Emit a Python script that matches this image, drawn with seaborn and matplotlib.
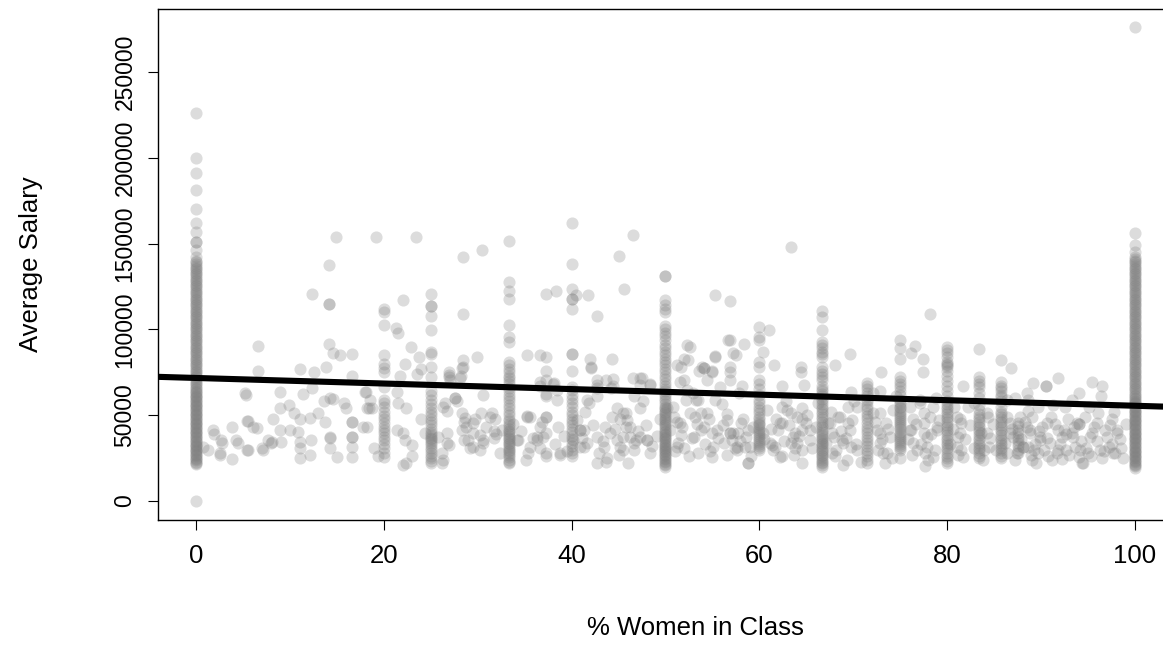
import matplotlib
matplotlib.use("Agg")
import matplotlib.pyplot as plt
import pandas as pd
import seaborn as sns

# ---------------- data (salary in $1000) ----------------
# vertical strips at common class fractions
sal_at_0 = [0, 21.5, 22.3, 23, 23.8, 24.5, 25.3, 26, 26.8, 27.5, 28.3, 29, 29.8, 30.5, 31.3, 32, 32.8,
            33.5, 34.3, 35, 35.8, 36.5, 37.3, 38, 38.8, 39.5, 40.3, 41, 41.8, 42.5, 43.3, 44, 44.8, 45.5,
            46.3, 47, 47.8, 48.5, 49.3, 50, 50.8, 51.5, 52.3, 53, 53.8, 54.5, 55.3, 56, 56.8, 57.5, 58.3,
            59, 59.8, 60.5, 61.3, 62, 62.8, 63.5, 64.3, 65, 66, 67, 68, 69, 70, 71, 72, 73, 74, 75, 76, 77,
            78, 79, 80, 81, 82, 83, 84, 85, 86, 87, 88, 89, 90, 91, 92, 93, 94, 95, 96, 97, 98, 99, 100,
            101, 102, 103, 104, 105, 106, 107, 108, 109, 110, 111, 112, 113, 114, 115, 116, 117, 118, 119,
            120, 121, 122, 123, 124, 125, 126, 127, 128, 129, 130, 131, 132, 133, 134, 135, 136, 137, 138,
            139, 140, 142, 146, 151, 151, 157, 162, 170, 181, 191, 200, 226]
sal_at_100 = [19.5, 20.3, 21, 21.8, 22.5, 23.3, 24, 24.8, 25.5, 26.3, 27, 27.8, 28.5, 29.3, 30, 30.8,
              31.5, 32.3, 33, 33.8, 34.5, 35.3, 36, 36.8, 37.5, 38.3, 39, 39.8, 40.5, 41.3, 42, 42.8,
              43.5, 44.3, 45, 45.8, 46.5, 47.3, 48, 48.8, 49.5, 50.3, 51, 51.8, 52.5, 53.3, 54, 54.8,
              55.5, 56.3, 57, 57.8, 58.5, 59.3, 60, 61, 62, 63, 64, 65, 66, 67, 68, 69, 70, 71, 72, 73,
              74, 75, 76, 77, 78, 79, 80, 81, 82, 83, 84, 85, 86, 87, 88, 89, 90, 91, 92, 93, 94, 95, 96,
              97, 98, 99, 100, 101, 102, 103, 104, 105, 106, 107, 108, 109, 110, 111, 112, 113, 114, 115,
              116, 117, 118, 119, 120, 121, 122, 123, 124, 125, 126, 127, 128, 129, 130, 131, 132, 133,
              134, 135, 136, 137, 138, 139, 140, 141, 142, 145, 149, 156, 276]
sal_at_50 = [20, 21, 21.8, 22.6, 23.5, 24.3, 25, 26, 26.8, 27.5, 28.4, 29.2, 30, 31, 31.8, 32.6, 33.5,
             34.3, 35, 36, 36.8, 37.5, 38.4, 39.2, 40, 41, 42, 43, 44, 45, 46, 47, 48, 49, 50, 51, 52, 53,
             54, 55, 56.5, 58, 59.5, 61, 62.5, 64, 65.5, 67, 69, 71, 73, 75, 77, 79, 81, 83, 85, 87, 89,
             91, 94, 96, 98, 100, 102, 110, 112, 114, 117, 131, 131]
sal_at_33 = [22, 23, 24, 25.5, 27, 28, 29, 30, 31, 32, 33, 34, 35, 36, 37, 38, 39, 40, 41, 42, 43.5, 45,
             46.5, 48, 50, 52, 54, 56, 58, 60, 62, 64, 66, 68, 70, 71.5, 73, 75, 77, 79, 81, 92.8, 95.7,
             102.6, 117.5, 122.5, 127.8, 151.5]
sal_at_67 = [20, 21, 22, 23, 24, 25, 26, 27, 28, 29, 30, 31, 32, 33, 34, 35, 36, 37, 38, 39, 40, 41.5,
             43, 44.5, 46, 47.5, 49, 50.5, 52, 53.5, 55, 56.5, 58, 59.5, 61, 62.5, 64, 65.5, 67, 70.5, 72,
             74, 76, 78, 84, 85.5, 87, 89, 91, 92.8, 99.6, 107, 111]
sal_at_25 = [22, 23.5, 25, 26.5, 28, 29.5, 31, 32.5, 34, 35, 36, 37, 38, 39, 40.5, 42, 44, 46, 48, 50,
             52, 54, 56.5, 59, 61.5, 64, 72.4, 78, 85.7, 87, 99.6, 108, 113.6, 113.6, 120.6]
sal_at_20 = [25.6, 28, 30.7, 33, 35.6, 37.5, 39.6, 41.3, 43, 45.5, 47.6, 49.6, 52, 54.5, 57, 59, 66.6,
             75, 77.5, 80, 85, 102.6, 110, 112]
sal_at_40 = [26, 28.2, 30, 32, 34, 36, 38, 40, 42, 44, 46, 48, 50, 52, 54.5, 57, 59.5, 62, 64.5, 66.6,
             76, 85.7, 85.7, 112, 117.5, 117.5, 123.5, 138, 162]
sal_at_60 = [29.7, 31, 32, 33, 34.2, 35.5, 36.7, 38, 39, 40, 41.3, 42.5, 44, 45, 46.2, 47.5, 49, 51,
             53, 55, 57, 59, 62, 65, 68, 70.5, 78, 80.9, 93.8, 95.7, 101.6]
sal_at_75 = [25, 29.7, 31, 32, 33.3, 34.5, 35.6, 37, 38, 39.3, 40.5, 41.7, 43, 44, 45.3, 46.5, 47.7,
             49, 50, 51.5, 52.7, 54, 55, 56.5, 57.7, 59, 62, 64, 66.6, 68, 70, 72.4, 82.6, 89, 94]
sal_at_80 = [22, 23.5, 25, 26.5, 28, 29.5, 31, 32.5, 34, 35.5, 37, 38.5, 40, 41.5, 43, 44.5, 46, 47.5,
             49, 50.5, 52, 53.5, 55, 56.5, 58, 61, 64, 67, 70, 73, 76, 78, 79, 80, 81, 84, 86, 88, 90]
sal_at_83 = [25, 26.5, 28, 29.5, 31, 32.5, 34, 35.5, 37, 38.5, 40, 41.5, 43, 44.5, 46, 47.5, 49, 50.5,
             53, 56, 60, 63, 66.6, 68, 70, 72.4, 88.6]
sal_at_86 = [25, 26.5, 28, 29.5, 31, 32.5, 34, 35.5, 37, 38.5, 40, 41.5, 43, 44.5, 46, 47.5, 49, 50.5,
             52, 55, 58, 60.8, 62, 64, 66, 67, 69.5, 82]
sal_at_71 = [22, 24, 26, 28.2, 30, 32, 34, 35.6, 37.5, 39.5, 41.5, 43.3, 45.5, 47.5, 49.5, 51.5, 53.5,
             55.5, 57.5, 59.1, 61, 63, 65, 66.8, 68.8]
sal_at_875 = [28.2, 30, 32, 34, 35.6, 37.5, 39.5, 41.5, 43.5, 45.5]

strip_pct = [0, 100, 50, 100 / 3, 200 / 3, 25, 20, 40, 60, 75, 80, 250 / 3, 600 / 7, 500 / 7, 87.5]
strip_sal = [sal_at_0, sal_at_100, sal_at_50, sal_at_33, sal_at_67, sal_at_25, sal_at_20, sal_at_40,
             sal_at_60, sal_at_75, sal_at_80, sal_at_83, sal_at_86, sal_at_71, sal_at_875]

# scattered points (% women, salary $1000)
high_points = [(6.6, 90.5), (6.6, 76), (11.1, 77), (12.6, 75), (13.8, 78), (12.4, 120.6), (14.2, 137.5),
               (14.2, 114.8), (14.2, 114.8), (14.9, 154), (14.2, 91.5), (14.6, 86.4), (15.3, 85),
               (16.6, 85.5), (16.6, 72.8), (19.2, 154), (23.4, 154), (28.4, 142), (30.5, 146),
               (22.1, 117), (28.4, 109), (21.3, 101), (21.5, 98), (22.9, 90), (23.7, 84), (22.3, 80),
               (24, 77), (23.5, 74), (21.7, 73), (29.9, 84), (28.4, 82), (28.4, 78), (26.9, 75),
               (26.9, 72), (28.2, 72.8), (27.1, 70.6), (46.5, 155), (45, 142.8), (45.6, 123.5),
               (37.3, 120.6), (38.3, 122.4), (40.5, 120), (41.8, 120), (42.7, 108), (36.6, 85),
               (37.3, 84), (37.3, 76), (42, 83), (44.3, 83), (42.1, 78), (44.4, 71), (44.4, 67),
               (47.5, 71.5), (48.3, 68), (52.3, 91), (52, 83), (51.2, 79), (53.6, 76), (51.5, 69.6),
               (52.3, 64.7), (55.3, 120), (56.9, 116.5), (63.4, 148), (56.7, 94), (58.4, 91.5),
               (61, 99.6), (60.4, 87), (57.5, 85), (55.3, 84), (69.7, 85.5), (68.1, 79.5), (61.6, 79),
               (64.4, 78), (64.4, 75), (56.9, 78), (56.9, 75), (53.9, 78), (54.9, 76), (73, 75.4),
               (76.6, 90.6), (76.1, 86), (77.4, 82.6), (77.4, 75), (78.2, 108.8), (86.8, 77.5),
               (91.8, 71.9), (89.1, 68.6), (90.5, 66.8), (90.5, 66.8), (95.4, 69.3), (96.5, 66.8),
               (96.4, 61), (52.6, 89.5), (52.4, 82), (51.7, 78), (55.3, 84.5), (54.1, 77.3),
               (55, 75.4), (56.9, 93.8), (57.2, 86), (35.3, 85), (42.1, 77.3), (54.1, 77.3)]
low_left = [(0.8, 31.7), (1.8, 41.3), (2.7, 35.6), (2.6, 28.2), (3.8, 43.3), (3.8, 24.3), (4.3, 35.6),
            (5.4, 29.7), (5.3, 61.8), (5.4, 46.8), (6.1, 43.3), (7.0, 30.7), (7.7, 35.6), (8.1, 34.1),
            (8.2, 47.6), (8.9, 63.7), (8.9, 54.1), (8.9, 41.3), (9.1, 34.6), (9.9, 56), (10, 41.3),
            (10.4, 51.5), (11.1, 47.6), (10.9, 40.4), (11.1, 34.6), (11.1, 30.7), (11.1, 24.9),
            (11.4, 62.3), (12.1, 48.2), (12.3, 35.6), (12.1, 26.8), (12.4, 65.6), (13, 51), (13.7, 46.2),
            (13.6, 58), (14.3, 59.9), (14.6, 59.3), (14.3, 37.5), (14.3, 36.5), (14.3, 30.7), (15, 25.9),
            (15.8, 57.3), (16, 54), (16.6, 46.2), (16.6, 46.2), (16.6, 37.5), (16.6, 37.5), (16.6, 31.7),
            (16.6, 25.9), (18.1, 63.7), (18.2, 54), (17.8, 43.3), (1.3, 29.7), (1.9, 39), (2.8, 34),
            (2.6, 27), (4.5, 34), (5.5, 29.7), (5.5, 46.6), (6.5, 42.7), (7.1, 29.7), (8, 34),
            (5.2, 63), (18, 63.7), (18.5, 59.1), (18.4, 54), (18.7, 54), (18.2, 43.3), (19.4, 26),
            (19, 30.7), (21.4, 63.7), (21.5, 57.3), (22.4, 54), (21.4, 41.3), (22.1, 39.6),
            (22.3, 35.6), (23, 32.8), (23, 26), (22.1, 21.2), (22.4, 22.2), (24, 47.6), (24.4, 39.6),
            (25.8, 37.5), (26.2, 28.2), (26.2, 22.2), (26.5, 57.3), (26.7, 52.4), (26.7, 39.6),
            (26.9, 32.8), (27.6, 60.3), (27.8, 58.2), (28.3, 51.5), (28.7, 48.6), (28.5, 45.8),
            (28.3, 41.3), (29.7, 47.6), (30.4, 51.5), (31.5, 51.5), (31.8, 47.6), (29.5, 39.6),
            (30.6, 35.6), (31.7, 36.5), (29, 35.6), (29.2, 30.7), (30.2, 29.7), (32.6, 41.3)]
low_mid = [(34.3, 35.6), (35.2, 49.6), (35.4, 28.2), (37.3, 70.5), (36.6, 66.8), (37.3, 61), (38.1, 68.6),
           (38.4, 59.1), (35.6, 49.2), (37.3, 49.2), (36.3, 35.6), (37, 37.5), (37.3, 26), (38.8, 27),
           (40.9, 41.3), (41.3, 41.3), (40.2, 35.6), (40.9, 31.7), (41.6, 59.1), (41.9, 57.3),
           (41.4, 52.1), (42.7, 70.5), (42.7, 67.6), (42.7, 65.6), (42.7, 61), (43.6, 43.3),
           (44.1, 39.6), (44.3, 49.2), (44.8, 54), (45.5, 51.5), (45.2, 47.6), (46.2, 43.3),
           (46.2, 37.5), (45.2, 31.7), (45.5, 29.7), (42.7, 21.9), (43.8, 24.8), (46, 22.2),
           (46.9, 35.6), (48, 35.6), (46.5, 71.6), (47.3, 67.6), (46.6, 61), (47.3, 54), (50.2, 54),
           (50.9, 49.2), (51.2, 46.2), (50.5, 41.3), (51.6, 38.5), (49.9, 30.7), (51, 29.1), (52, 30.7),
           (53.3, 59.1), (26.9, 73.4), (28.1, 71.4), (28.3, 77.3), (30.6, 61.8), (36.6, 69.3),
           (37.3, 62.5), (38, 68.4), (38.4, 64.5), (43.7, 70.5), (44.2, 65.6), (47.3, 71.4),
           (48.3, 67.6), (47.6, 58), (52, 70.5), (52.9, 62.7), (52.2, 58.9), (54.4, 70.5), (55.8, 66.6),
           (56.9, 70.5), (26.3, 55), (27.6, 59.8), (28.8, 43.3), (29.5, 45.2), (30.2, 38.4),
           (31.3, 49.2), (31.7, 40.6), (30.6, 33.6), (29.5, 31.7), (28.5, 35.6), (26.3, 23.9),
           (26.7, 33.6), (34.2, 35.6), (35.2, 49.2), (35.6, 31.7), (36.3, 37.5), (36.6, 43.3),
           (37.3, 49.2), (37.3, 39.6), (37.3, 27.8), (38.8, 27.8), (36.6, 30.7), (40.9, 41.3),
           (41.6, 33.6), (41.3, 31.7), (42.7, 37.5), (43.4, 31.7), (43.7, 22.9), (44.8, 35.6),
           (45.8, 51), (45.8, 43.3), (45.5, 37.5), (46.6, 33.6), (47.3, 37.5), (48, 35.6), (48.3, 27.8),
           (50.8, 54.9), (51.5, 45.2), (52.6, 51), (51.2, 31.7), (53, 37.5), (54.4, 51), (54.1, 43.3),
           (55.5, 41.3), (56.5, 47.1), (57.2, 39.4), (55.1, 31.7), (56.2, 33.6), (57.6, 31.7),
           (30.9, 43), (31.9, 39), (32.4, 28), (33.8, 45), (34.6, 41), (35.1, 24), (35.9, 37),
           (36.9, 46), (38.2, 33), (38.6, 43), (39.2, 38), (39.5, 29), (40.6, 47), (41.1, 37),
           (42.3, 44), (42.9, 28), (43.3, 35), (44.6, 42), (45.1, 27), (45.9, 47), (46.6, 30),
           (47.1, 41), (47.9, 44), (48.6, 32), (49.1, 38), (49.4, 48), (51.3, 34), (51.8, 43),
           (52.5, 26), (52.8, 37), (53.4, 45), (54.2, 33), (54.7, 29), (55.6, 37), (56.1, 44),
           (56.6, 27), (57.9, 35), (58.3, 48), (59.1, 26), (59.3, 43)]
low_right = [(53.5, 59.1), (53.8, 51.5), (53.1, 49.2), (54.6, 47.6), (53.8, 41.3), (54.9, 39.6),
             (53.5, 28.2), (54.9, 25.9), (55.3, 59.1), (56, 56.4), (56.5, 50.5), (56.9, 39.6),
             (57.1, 35.6), (57.4, 30.7), (57.7, 39.6), (58.5, 31.7), (58.8, 22.2), (57.8, 62.9),
             (58.1, 66.8), (58.8, 41.3), (60.8, 52.8), (61.3, 32.8), (61.7, 31.7), (62, 41.3),
             (62.4, 45.2), (62.4, 55), (62.4, 66.8), (63.4, 51.5), (63.8, 39.6), (63.4, 33.8),
             (63.8, 30.7), (64.5, 54), (64.7, 67.6), (64.5, 47.6), (64.5, 41.3), (64.5, 21.9),
             (62.4, 26), (65.4, 35.6), (67.3, 45.2), (67.7, 39.6), (67.7, 28.2), (68.4, 49.2),
             (68.8, 35.6), (68.9, 21), (69.4, 45.2), (69.8, 31.7), (69.8, 63.7), (69.4, 55), (72.1, 63.1),
             (72.8, 51.5), (72.8, 39.6), (73.6, 28.2), (73.4, 22.2), (76, 41.3), (76.4, 47.6), (76, 55),
             (77.1, 59.1), (77.5, 51.5), (77.5, 39.6), (77.8, 31.7), (77.6, 28.2), (77.6, 20.4),
             (78.5, 55), (78.9, 43.3), (80.7, 55), (81.4, 47.6), (81.4, 39.6), (81, 31.7), (81.7, 25.9),
             (81.7, 66.8), (84.2, 51.5), (84.2, 39.6), (84.5, 31.7), (86.4, 59.1), (86.4, 49.2),
             (86.7, 39.6), (86.4, 28.2), (88.5, 63.1), (88.5, 43.3), (88.1, 31.7), (88.6, 52.4),
             (88.6, 59.1), (89, 49.2), (88.8, 39.6), (88.6, 31.7), (89, 24), (89.7, 55), (90.1, 43.3),
             (89.9, 35.6), (89.7, 28.2), (91.1, 49.2), (91.8, 41.3), (92.2, 37.5), (91.8, 29.7),
             (92.5, 55), (92.9, 47.6), (93.3, 39.6), (93.6, 31.7), (94, 25.9), (94.3, 22.2), (94, 45),
             (94, 45), (94.7, 49.2), (95.4, 39.6), (95, 28.2), (96.1, 51.5), (96.8, 41.3), (97.2, 31.7),
             (96.5, 24.9), (97.6, 47.6), (98.1, 39.6), (97.9, 28.2), (93.3, 59.1), (94, 63.1),
             (92.2, 24.6), (90.7, 26), (56.9, 39.5), (58, 45.3), (58.6, 37.5), (57.6, 29.7), (59, 31.7),
             (58.8, 22), (60.4, 39.5), (61.1, 33.7), (61.5, 29.7), (62.2, 25.8), (62.2, 45.3), (62.9, 53),
             (63.6, 37.5), (64, 49.2), (64.5, 29.7), (65, 45.3), (65.4, 41.4), (64, 33.7), (67.5, 45.3),
             (67.9, 37.5), (68.2, 29.7), (68.6, 49.2), (68.9, 33.7), (69.3, 24), (69.6, 41.4),
             (70.4, 55), (70.4, 29.7), (72.1, 51.1), (72.5, 41.4), (72.8, 33.7), (73.2, 27.9),
             (73.5, 45.3), (73.9, 37.5), (72.8, 64), (76.1, 41.4), (76.4, 33.7), (76.8, 29.7),
             (77.5, 45.3), (77.8, 37.5), (78.2, 49.2), (78.5, 25.8), (78.9, 41.4), (77.1, 57),
             (81, 49.2), (81.2, 37.5), (81.5, 29.7), (81.5, 45.3), (82.2, 55), (83.6, 39.5),
             (83.9, 29.7), (84.3, 49.2), (86.7, 45.3), (87, 37.5), (87.4, 27.8), (87.8, 49.2),
             (88.1, 31.7), (88.8, 41.4), (89.2, 29.7), (89.5, 22), (89.9, 37.5), (90.6, 45.3),
             (90.9, 33.7), (91.7, 27.8), (92.4, 41.4), (92.7, 29.7), (93.4, 37.5), (93.8, 45.3),
             (94.1, 29.7), (94.5, 22), (95.2, 37.5), (95.9, 45.3), (96.3, 29.7), (97, 37.5),
             (97.7, 27.8), (98.1, 41.4),
             (60.5, 36), (61.2, 42), (61.8, 48), (62.6, 35), (63.1, 44), (63.7, 27), (64.2, 38),
             (65.1, 50), (65.6, 31), (66, 43), (67.1, 34), (67.6, 52), (68.1, 26), (68.7, 41),
             (69.2, 37), (69.9, 47), (70.3, 33), (70.8, 23), (72.3, 46), (72.6, 30), (73.1, 36),
             (73.7, 42), (74.1, 25), (74.2, 53), (75.8, 36), (76.3, 27), (76.7, 45), (77.2, 33),
             (77.9, 24), (78.3, 39), (78.7, 30), (79.1, 47), (80.3, 33), (80.6, 42), (81.1, 27),
             (81.9, 36), (82.4, 44), (82.8, 31), (83.8, 24), (84.6, 37), (84.9, 45), (85.2, 30),
             (86.1, 34), (86.9, 42), (87.2, 24), (87.9, 36), (88.3, 46), (88.9, 27), (89.4, 33),
             (89.8, 41), (90.3, 30), (90.6, 37), (91.2, 24), (91.5, 45), (92, 33), (92.6, 39),
             (93, 27), (93.5, 43), (94.2, 35), (94.8, 31), (95.3, 26), (95.6, 43), (96, 35),
             (96.7, 29), (97.3, 44), (97.6, 33), (98.4, 36), (98.7, 25), (99, 45), (98.5, 31),
             (62.8, 58), (66.2, 57), (70.1, 58), (74.5, 61), (78.8, 60), (82.9, 57), (87.2, 60),
             (91.3, 56), (95.1, 55), (97.8, 52)]

# least-squares fit line reported on the chart
fit_intercept = 71700
fit_slope = -162

x_ticks = [0, 20, 40, 60, 80, 100]
y_ticks = [0, 50000, 100000, 150000, 200000, 250000]

# ---------------- assemble ----------------
rows = []
for p, vals in zip(strip_pct, strip_sal):
    rows += [(p, v * 1000) for v in vals]
for group in (high_points, low_left, low_mid, low_right):
    rows += [(p, v * 1000) for p, v in group]
df = pd.DataFrame(rows, columns=["pct_women", "salary"])

# ---------------- plot ----------------
sns.set_theme(style="white")
plt.rcParams["font.family"] = ["Liberation Sans", "DejaVu Sans"]
DPI = 100
W, H = 1163, 667
fig = plt.figure(figsize=(W / DPI, H / DPI), dpi=DPI)
ax_l, ax_r, ax_t, ax_b = 158.4, 1172.6, 9, 520
ax = fig.add_axes([ax_l / W, (H - ax_b) / H, (ax_r - ax_l) / W, (ax_b - ax_t) / H])

sns.scatterplot(data=df, x="pct_women", y="salary", ax=ax, color="#7f7f7f", alpha=0.27,
                s=76, linewidth=0, legend=False, zorder=2)
ax.axline((0, fit_intercept), slope=fit_slope, color="black", lw=4.4, zorder=3,
          solid_capstyle="butt")

ax.set_xlim(-4, 104)
ax.set_ylim(-11070, 286700)

fs = 18.5
fs_y = 16.5
ax.set_xticks(x_ticks)
ax.set_xticklabels([str(t) for t in x_ticks], fontsize=fs)
ax.set_yticks(y_ticks)
ax.set_yticklabels([str(t) for t in y_ticks], fontsize=fs_y, rotation=90, va="center")
ax.tick_params(axis="both", direction="out", length=7.2, width=0.8, color="black",
               labelcolor="black", left=True, bottom=True)
ax.tick_params(axis="x", pad=10)
ax.tick_params(axis="y", pad=8.6)

for side in ["left", "bottom", "top", "right"]:
    ax.spines[side].set_visible(True)
    ax.spines[side].set_color("black")
    ax.spines[side].set_linewidth(1.0)

ax.set_xlabel("% Women in Class", fontsize=fs, color="black")
ax.set_ylabel("Average Salary", fontsize=fs, color="black")
ax.xaxis.label.set_va("center")
ax.yaxis.label.set_va("center")
ax.xaxis.set_label_coords((695 - ax_l) / (ax_r - ax_l), (ax_b - 628) / (ax_b - ax_t))
ax.yaxis.set_label_coords((31 - ax_l) / (ax_r - ax_l), 0.5)

fig.savefig("out.png", dpi=DPI)
